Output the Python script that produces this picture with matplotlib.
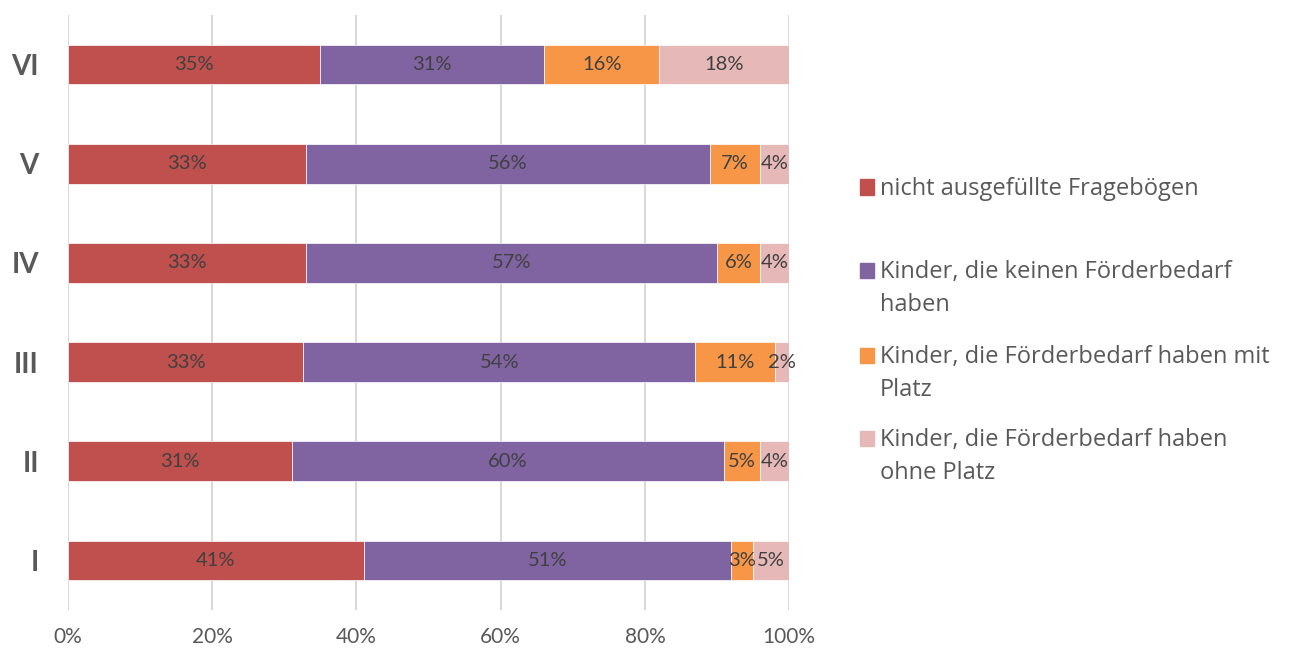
import matplotlib.pyplot as plt
import numpy as np
from matplotlib.patches import Rectangle

plt.rcParams['font.family'] = ['Lato', 'DejaVu Sans']

groups = ["I", "II", "III", "IV", "V", "VI"]
nicht_ausgefuellt = [41, 31, 32.6, 33, 33, 35]
kein_bedarf = [51, 60, 54.4, 57, 56, 31]
bedarf_mit_platz = [3, 5, 11, 6, 7, 16]
bedarf_ohne_platz = [5, 4, 2, 4, 4, 18]

series_names = ["nicht ausgefüllte Fragebögen",
                "Kinder, die keinen Förderbedarf\nhaben",
                "Kinder, die Förderbedarf haben mit\nPlatz",
                "Kinder, die Förderbedarf haben\nohne Platz"]
colors = ["#C0504D", "#8064A2", "#F79646", "#E6B9B8"]
xticks = [0, 20, 40, 60, 80, 100]

series = [nicht_ausgefuellt, kein_bedarf, bedarf_mit_platz, bedarf_ohne_platz]

fig = plt.figure(figsize=(13, 6.5), dpi=100)
ax = fig.add_axes([0.0523, 0.0615, 0.5547, 0.9155])

y = np.arange(len(groups))
left = np.zeros(len(groups))
for vals, col in zip(series, colors):
    vals = np.array(vals, dtype=float)
    bars = ax.barh(y, vals, left=left, height=0.40, color=col,
                   edgecolor="white", linewidth=0.5, zorder=2)
    for b, v in zip(bars, vals):
        ax.text(b.get_x() + b.get_width() / 2, b.get_y() + b.get_height() / 2,
                "%d%%" % round(v), ha="center", va="center",
                fontsize=14.5, color="#404040", zorder=3)
    left += vals

ax.set_xlim(0, 100)
ax.set_ylim(-0.5, 5.5)
ax.set_xticks(xticks)
ax.set_xticklabels(["%d%%" % t for t in xticks], fontsize=15, color="#595959")
ax.set_yticks(y)
ax.set_yticklabels(groups, fontsize=20, fontweight="bold", color="#595959")
ax.tick_params(axis="both", length=0)
ax.tick_params(axis="y", pad=21)
ax.tick_params(axis="x", pad=12)
ax.grid(axis="x", color="#D9D9D9", linewidth=1.5, zorder=0)
ax.set_axisbelow(True)
for s in ax.spines.values():
    s.set_visible(False)

# legend, drawn by hand so the marker sits on the first text line
leg_y = [187, 270, 355, 438]
for name, col, yy in zip(series_names, colors, leg_y):
    fy = 1 - yy / 650.0
    fig.patches.append(Rectangle((860 / 1300.0, fy - 7.5 / 650.0), 14 / 1300.0, 15 / 650.0,
                                 transform=fig.transFigure, color=col))
    fig.text(880 / 1300.0, fy + 10 / 650.0, name, fontsize=17, color="#595959",
             family=["Open Sans", "DejaVu Sans"], va="top", ha="left", linespacing=1.5)

plt.savefig("out.png", dpi=100)
